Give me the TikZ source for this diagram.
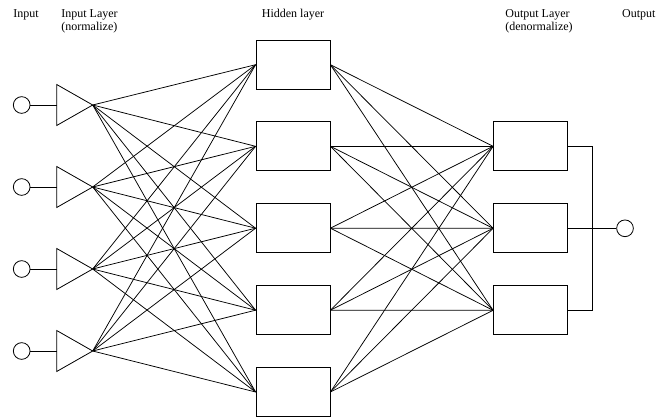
\documentclass[tikz,border=0pt]{standalone}
\usepackage{fontspec}
\setmainfont{Liberation Serif}
\begin{document}
\begin{tikzpicture}[x=1pt,y=-1pt, line width=0.8pt,
  inp/.style={circle,draw,minimum size=16.7pt,inner sep=0pt},
  unit/.style={rectangle,draw,minimum width=74pt,minimum height=49pt,inner sep=0pt},
  lbl/.style={anchor=base west,font=\fontsize{12}{13}\selectfont,inner sep=0pt},
  conn/.style={line width=0.75pt}]
\useasboundingbox (0,0) rectangle (667,418);
% labels
\node[lbl] (tIn) at (13,17.5) {Input};
\node[lbl] (tIL1) at (61,17.5) {Input Layer};
\node[lbl] (tIL2) at (61,30.5) {(normalize)};
\node[lbl,anchor=base] (tHid) at (293,17.5) {Hidden layer};
\node[lbl] (tOL1) at (505,17.5) {Output Layer};
\node[lbl] (tOL2) at (505,30.5) {(denormalize)};
\node[lbl] (tOut) at (621.7,17.5) {Output};
% input circles and triangles
\foreach \i/\y in {1/105,2/187,3/269,4/351}{
  \node[inp] (c\i) at (21.7,\y) {};
  \coordinate (tb\i) at (56.7,\y);
  \coordinate (tt\i) at (92.7,\y);
  \draw (56.7,\y-20.5) -- (tt\i) -- (56.7,\y+20.5) -- cycle;
  \draw (c\i) -- (tb\i);
}
% hidden layer
\foreach \j/\y in {1/64.7,2/146.3,3/228.2,4/310.2,5/392}
  \node[unit] (h\j) at (293,\y) {};
% output layer
\foreach \k/\y in {1/146.3,2/228.3,3/310.3}
  \node[unit] (o\k) at (530.5,\y) {};
% connections
\foreach \i in {1,...,4}
  \foreach \j in {1,...,5}
    \draw[conn] (tt\i) -- (h\j.west);
\foreach \j in {1,...,5}
  \foreach \k in {1,...,3}
    \draw[conn] (h\j.east) -- (o\k.west);
% output
\node[inp] (out) at (625,228.3) {};
\coordinate (bus1) at (592,146.3);
\coordinate (bus3) at (592,310.3);
\draw (o1.east) -- (bus1) -- (bus3) -- (o3.east);
\draw (o2.east) -- (out);
\end{tikzpicture}
\end{document}
